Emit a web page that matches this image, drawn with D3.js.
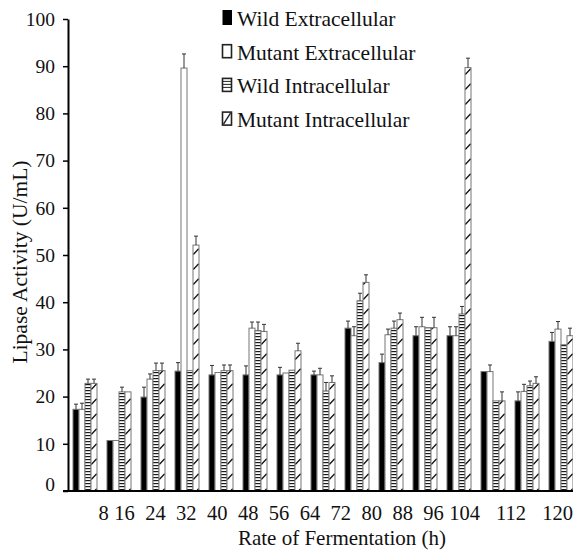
<!DOCTYPE html>
<html>
<head>
<meta charset="utf-8">
<script src="https://cdn.jsdelivr.net/npm/d3@7"></script>
<style>
  html, body { margin: 0; padding: 0; background: #fff; }
  text { font-family: "Liberation Serif", "Times New Roman", serif; fill: #111; }
</style>
</head>
<body>
<script>
// ---------------- data ----------------
const categories = [8, 16, 24, 32, 40, 48, 56, 64, 72, 80, 88, 96, 104, 112, 120];
const xTickLabels = ["8", "16", "24", "32", "40", "48", "56", "64", "72", "80", "88", "96", "104", "112", "120"];
const seriesNames = ["Wild Extracellular", "Mutant Extracellular", "Wild Intracellular", "Mutant Intracellular"];

const wildExtra      = [17.3, 10.7, 19.9, 25.4, 24.6, 24.6, 24.6, 24.6, 34.5, 27.2, 32.9, 32.9, 25.3, 19.1, 31.7];
const wildExtraErr   = [1.1, 0, 2.1, 1.8, 2.0, 1.9, 1.6, 0.8, 1.5, 1.8, 1.9, 1.9, 0, 1.9, 1.9];
const mutantExtra    = [17.3, 10.7, 23.7, 89.6, 25.1, 34.5, 25.0, 24.6, 32.9, 33.1, 34.8, 32.9, 25.3, 21.1, 34.3];
const mutantExtraErr = [1.3, 0, 1.1, 3.0, 0, 1.3, 0, 1.4, 1.9, 1.2, 2.0, 1.9, 1.4, 1.5, 1.6];
const wildIntra      = [22.8, 21.0, 25.5, 25.5, 25.5, 34.0, 25.6, 21.2, 40.3, 34.5, 34.6, 37.5, 19.1, 22.3, 31.0];
const wildIntraErr   = [0.9, 1.0, 1.6, 0, 1.2, 1.8, 0, 1.8, 1.6, 1.5, 0, 1.6, 0, 1.0, 0];
const mutantIntra    = [22.8, 21.0, 25.5, 52.1, 25.5, 33.8, 29.7, 23.0, 44.2, 36.3, 34.6, 89.7, 19.1, 22.8, 32.9];
const mutantIntraErr = [0.9, 0, 1.6, 1.9, 1.2, 1.5, 1.6, 1.4, 1.6, 1.4, 2.2, 2.0, 1.9, 1.4, 1.6];

const yTicks = [0, 10, 20, 30, 40, 50, 60, 70, 80, 90, 100];

// ---------------- layout ----------------
const W = 573, H = 554;
const svg = d3.select("body").append("svg").attr("width", W).attr("height", H);

const y = d3.scaleLinear().domain([0, 100]).range([491, 19]);
const x0 = d3.scaleBand().domain(categories).range([68, 578])
  .paddingInner(10 / 34).paddingOuter(5 / 34);
const x1 = d3.scaleBand().domain(d3.range(4)).range([0, x0.bandwidth()]);
// tick labels are laid out independently of the bar groups in the original
const labelX = d3.scaleLinear().domain([8, 16, 104, 120]).range([103, 124, 464, 557]);

const values = [wildExtra, mutantExtra, wildIntra, mutantIntra];
const errors = [wildExtraErr, mutantExtraErr, wildIntraErr, mutantIntraErr];

// ---------------- patterns ----------------
const defs = svg.append("defs");
const stripe = defs.append("pattern").attr("id", "stripe")
  .attr("patternUnits", "userSpaceOnUse").attr("width", 4).attr("height", 3);
stripe.append("rect").attr("width", 4).attr("height", 3).attr("fill", "#fff");
stripe.append("rect").attr("width", 4).attr("height", 1.2).attr("fill", "#1a1a1a");

const bw = x1.bandwidth();
const hatch = defs.append("pattern").attr("id", "hatch")
  .attr("patternUnits", "userSpaceOnUse")
  .attr("x", x0(categories[0]) + x1(3)).attr("y", 0)
  .attr("width", x0.step()).attr("height", 15);
hatch.append("rect").attr("width", x0.step()).attr("height", 15).attr("fill", "#fff");
hatch.append("line").attr("x1", 0.3).attr("y1", 14.5).attr("x2", bw - 0.3).attr("y2", 14.5 - bw * 0.95)
  .attr("stroke", "#111").attr("stroke-width", 1.3);

const fills = ["#000", "#fff", "url(#stripe)", "url(#hatch)"];

// ---------------- bars ----------------
const rows = [];
categories.forEach((c, i) => {
  for (let s = 0; s < 4; s++) rows.push({ c, s, v: values[s][i], e: errors[s][i] });
});

const barG = svg.append("g");
barG.selectAll("rect").data(rows).join("rect")
  .attr("x", d => x0(d.c) + x1(d.s))
  .attr("y", d => y(d.v))
  .attr("width", bw)
  .attr("height", d => y(0) - y(d.v))
  .attr("fill", d => fills[d.s])
  .attr("stroke", "#777")
  .attr("stroke-width", 1);

// ---------------- error bars (+ only) ----------------
const errG = svg.append("g").attr("stroke", "#333").attr("stroke-width", 1).attr("fill", "none");
rows.filter(d => d.e > 0).forEach(d => {
  const cx = x0(d.c) + x1(d.s) + bw / 2;
  errG.append("line").attr("x1", cx).attr("x2", cx).attr("y1", y(d.v)).attr("y2", y(d.v + d.e));
  errG.append("line").attr("x1", cx - 2).attr("x2", cx + 2).attr("y1", y(d.v + d.e)).attr("y2", y(d.v + d.e));
});

// ---------------- axes ----------------
const yAxis = svg.append("g").attr("transform", "translate(68,0)")
  .call(d3.axisLeft(y).tickValues(yTicks).tickSize(5).tickSizeOuter(0).tickPadding(8));
yAxis.select(".domain").attr("stroke", "#000").attr("stroke-width", 2);
yAxis.selectAll(".tick line").attr("stroke", "#000").attr("stroke-width", 1.5);
yAxis.selectAll(".tick text").attr("font-size", 19.5).attr("fill", "#111")
  .style("font-family", '"Liberation Serif", "Times New Roman", serif')
  .attr("dy", d => d === 0 ? "-0.05em" : "0.32em");

// baseline
svg.append("line").attr("x1", 63).attr("x2", W).attr("y1", y(0)).attr("y2", y(0))
  .attr("stroke", "#000").attr("stroke-width", 2);

const xAxis = svg.append("g").attr("transform", `translate(0,${y(0)})`)
  .call(d3.axisBottom(labelX).tickValues(categories).tickSize(0).tickPadding(14)
    .tickFormat((d, i) => xTickLabels[i]));
xAxis.select(".domain").remove();
xAxis.selectAll(".tick text").attr("font-size", 20.5).attr("fill", "#111")
  .style("font-family", '"Liberation Serif", "Times New Roman", serif');

// axis titles
svg.append("text").attr("transform", "translate(27,262) rotate(-90)")
  .attr("text-anchor", "middle").attr("font-size", 21.5).text("Lipase Activity (U/mL)");
svg.append("text").attr("x", 342).attr("y", 545)
  .attr("text-anchor", "middle").attr("font-size", 21).text("Rate of Fermentation (h)");

// ---------------- legend ----------------
const lg = svg.append("g");
seriesNames.forEach((name, i) => {
  const base = 26 + i * 33.7;
  const bx = 222.5, by = base - 15, bwid = 9, bh = 13;
  const g = lg.append("g");
  if (i === 0) {
    g.append("rect").attr("x", bx).attr("y", by - 1).attr("width", bwid + 0.5).attr("height", bh + 2).attr("fill", "#000");
  } else {
    g.append("rect").attr("x", bx).attr("y", by).attr("width", bwid).attr("height", bh)
      .attr("fill", "#fff").attr("stroke", "#222").attr("stroke-width", 1.6);
    if (i === 2) {
      d3.range(by + 3, by + bh - 1, 3).forEach(yy => {
        g.append("line").attr("x1", bx).attr("x2", bx + bwid).attr("y1", yy).attr("y2", yy)
          .attr("stroke", "#222").attr("stroke-width", 1);
      });
    }
    if (i === 3) {
      g.append("line").attr("x1", bx + 1).attr("y1", by + bh - 1).attr("x2", bx + bwid - 1).attr("y2", by + 1)
        .attr("stroke", "#222").attr("stroke-width", 1.4);
    }
  }
  g.append("text").attr("x", 237).attr("y", base).attr("font-size", 21.5).text(name);
});
</script>
</body>
</html>
